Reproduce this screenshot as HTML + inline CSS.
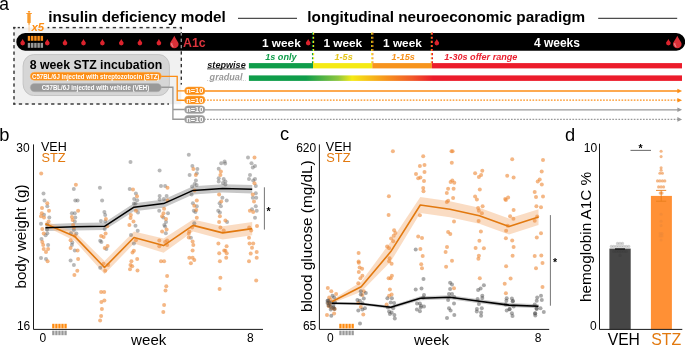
<!DOCTYPE html>
<html lang="en">
<head>
<meta charset="utf-8">
<title>Figure: insulin deficiency model and longitudinal neuroeconomic paradigm</title>
<style>
html,body{margin:0;padding:0;background:#fff;}
body{width:685px;height:345px;overflow:hidden;}
svg{display:block;}
</style>
</head>
<body>
<svg width="685" height="345" viewBox="0 0 685 345" font-family="'Liberation Sans', sans-serif">
<rect width="685" height="345" fill="#fff"/>
<g id="panel-a">
<rect x="14" y="27.6" width="167.3" height="76.6" fill="#f1f1f1"/>
<text x="-0.8" y="9.85" font-size="17.5" fill="#000">a</text>
<text x="48.2" y="22" font-size="15.3" font-weight="bold" fill="#000">insulin deficiency model</text>
<rect x="238" y="17.8" width="59" height="1" fill="#222"/>
<text x="307.3" y="22" font-size="15.3" font-weight="bold" fill="#000">longitudinal neuroeconomic paradigm</text>
<rect x="598.2" y="17.8" width="79" height="1" fill="#222"/>
<rect x="16.3" y="33.1" width="668.9" height="17.6" rx="8.8" fill="#000"/>
<rect x="13.3" y="26.9" width="2.3" height="1.4" fill="#303030"/>
<rect x="17.7" y="26.9" width="2.2" height="1.4" fill="#303030"/>
<rect x="22" y="26.9" width="1.9" height="1.4" fill="#303030"/>
<rect x="47.6" y="26.9" width="1.7" height="1.4" fill="#303030"/>
<rect x="52.50" y="26.90" width="3.30" height="1.4" fill="#303030"/><rect x="59.19" y="26.90" width="3.30" height="1.4" fill="#303030"/><rect x="65.89" y="26.90" width="3.30" height="1.4" fill="#303030"/><rect x="72.58" y="26.90" width="3.30" height="1.4" fill="#303030"/><rect x="79.27" y="26.90" width="3.30" height="1.4" fill="#303030"/><rect x="85.96" y="26.90" width="3.30" height="1.4" fill="#303030"/><rect x="92.65" y="26.90" width="3.30" height="1.4" fill="#303030"/><rect x="99.35" y="26.90" width="3.30" height="1.4" fill="#303030"/><rect x="106.04" y="26.90" width="3.30" height="1.4" fill="#303030"/><rect x="112.73" y="26.90" width="3.30" height="1.4" fill="#303030"/><rect x="119.42" y="26.90" width="3.30" height="1.4" fill="#303030"/><rect x="126.11" y="26.90" width="3.30" height="1.4" fill="#303030"/><rect x="132.81" y="26.90" width="3.30" height="1.4" fill="#303030"/><rect x="139.50" y="26.90" width="3.30" height="1.4" fill="#303030"/><rect x="146.19" y="26.90" width="3.30" height="1.4" fill="#303030"/><rect x="152.88" y="26.90" width="3.30" height="1.4" fill="#303030"/><rect x="159.57" y="26.90" width="3.30" height="1.4" fill="#303030"/><rect x="166.27" y="26.90" width="3.30" height="1.4" fill="#303030"/><rect x="172.96" y="26.90" width="3.30" height="1.4" fill="#303030"/><rect x="179.65" y="26.90" width="2.35" height="1.4" fill="#303030"/>
<rect x="13.30" y="103.30" width="2.35" height="1.4" fill="#303030"/><rect x="18.81" y="103.30" width="3.30" height="1.4" fill="#303030"/><rect x="25.27" y="103.30" width="3.30" height="1.4" fill="#303030"/><rect x="31.73" y="103.30" width="3.30" height="1.4" fill="#303030"/><rect x="38.18" y="103.30" width="3.30" height="1.4" fill="#303030"/><rect x="44.64" y="103.30" width="3.30" height="1.4" fill="#303030"/><rect x="51.10" y="103.30" width="3.30" height="1.4" fill="#303030"/><rect x="57.56" y="103.30" width="3.30" height="1.4" fill="#303030"/><rect x="64.02" y="103.30" width="3.30" height="1.4" fill="#303030"/><rect x="70.47" y="103.30" width="3.30" height="1.4" fill="#303030"/><rect x="76.93" y="103.30" width="3.30" height="1.4" fill="#303030"/><rect x="83.39" y="103.30" width="3.30" height="1.4" fill="#303030"/><rect x="89.85" y="103.30" width="3.30" height="1.4" fill="#303030"/><rect x="96.31" y="103.30" width="3.30" height="1.4" fill="#303030"/><rect x="102.77" y="103.30" width="3.30" height="1.4" fill="#303030"/><rect x="109.22" y="103.30" width="3.30" height="1.4" fill="#303030"/><rect x="115.68" y="103.30" width="3.30" height="1.4" fill="#303030"/><rect x="122.14" y="103.30" width="3.30" height="1.4" fill="#303030"/><rect x="128.60" y="103.30" width="3.30" height="1.4" fill="#303030"/><rect x="135.06" y="103.30" width="3.30" height="1.4" fill="#303030"/><rect x="141.52" y="103.30" width="3.30" height="1.4" fill="#303030"/><rect x="147.97" y="103.30" width="3.30" height="1.4" fill="#303030"/><rect x="154.43" y="103.30" width="3.30" height="1.4" fill="#303030"/><rect x="160.89" y="103.30" width="3.30" height="1.4" fill="#303030"/><rect x="167.35" y="103.30" width="1.65" height="1.4" fill="#303030"/>
<rect x="13.3" y="26.90" width="1.4" height="2.35" fill="#303030"/><rect x="13.3" y="32.33" width="1.4" height="3.30" fill="#303030"/><rect x="13.3" y="38.72" width="1.4" height="3.30" fill="#303030"/><rect x="13.3" y="45.10" width="1.4" height="3.30" fill="#303030"/><rect x="13.3" y="51.48" width="1.4" height="3.30" fill="#303030"/><rect x="13.3" y="57.87" width="1.4" height="3.30" fill="#303030"/><rect x="13.3" y="64.25" width="1.4" height="3.30" fill="#303030"/><rect x="13.3" y="70.63" width="1.4" height="3.30" fill="#303030"/><rect x="13.3" y="77.02" width="1.4" height="3.30" fill="#303030"/><rect x="13.3" y="83.40" width="1.4" height="3.30" fill="#303030"/><rect x="13.3" y="89.78" width="1.4" height="3.30" fill="#303030"/><rect x="13.3" y="96.17" width="1.4" height="3.30" fill="#303030"/><rect x="13.3" y="102.55" width="1.4" height="2.15" fill="#303030"/>
<rect x="180.60" y="26.90" width="1.4" height="2.35" fill="#303030"/><rect x="180.60" y="32.28" width="1.4" height="0.82" fill="#303030"/><rect x="180.60" y="33.10" width="1.4" height="2.48" fill="#909090"/><rect x="180.60" y="38.62" width="1.4" height="3.30" fill="#909090"/><rect x="180.60" y="44.95" width="1.4" height="3.30" fill="#909090"/><rect x="180.60" y="51.28" width="1.4" height="3.30" fill="#303030"/><rect x="180.60" y="57.62" width="1.4" height="3.30" fill="#303030"/><rect x="180.60" y="63.95" width="1.4" height="3.30" fill="#303030"/><rect x="180.60" y="70.28" width="1.4" height="3.30" fill="#303030"/><rect x="180.60" y="76.62" width="1.4" height="3.30" fill="#303030"/><rect x="180.60" y="82.95" width="1.4" height="1.65" fill="#303030"/>
<g fill="#fc8d14"><rect x="27.9" y="11.1" width="2.3" height="1.1"/><rect x="28.6" y="12" width="0.9" height="1.4"/><rect x="26.3" y="13.1" width="5.5" height="0.9"/><rect x="27.3" y="14" width="3.4" height="9" rx="0.5" fill="#f89a2c"/><rect x="28.3" y="23" width="1.5" height="1.8" fill="#f9a84a"/><rect x="28.65" y="24.8" width="0.8" height="6.8" fill="#fbc184"/></g>
<text x="31.4" y="31" font-size="11.4" font-weight="bold" font-style="italic" fill="#fc8d14">x5</text>
<rect x="27.80" y="35.9" width="2.45" height="4.9" fill="#fc8d14"/>
<rect x="27.80" y="42.9" width="2.45" height="4.9" fill="#999999"/>
<rect x="31.00" y="35.9" width="2.45" height="4.9" fill="#fc8d14"/>
<rect x="31.00" y="42.9" width="2.45" height="4.9" fill="#999999"/>
<rect x="34.20" y="35.9" width="2.45" height="4.9" fill="#fc8d14"/>
<rect x="34.20" y="42.9" width="2.45" height="4.9" fill="#999999"/>
<rect x="37.40" y="35.9" width="2.45" height="4.9" fill="#fc8d14"/>
<rect x="37.40" y="42.9" width="2.45" height="4.9" fill="#999999"/>
<rect x="40.60" y="35.9" width="2.45" height="4.9" fill="#fc8d14"/>
<rect x="40.60" y="42.9" width="2.45" height="4.9" fill="#999999"/>
<path d="M22.65 39.00 C23.71 41.11 25.00 42.20 25.00 43.05 A2.35 2.35 0 0 1 20.30 43.05 C20.30 42.20 21.59 41.11 22.65 39.00Z" fill="#dc232d" />
<path d="M47.30 39.00 C48.36 41.11 49.65 42.20 49.65 43.05 A2.35 2.35 0 0 1 44.95 43.05 C44.95 42.20 46.24 41.11 47.30 39.00Z" fill="#dc232d" />
<path d="M65.00 39.00 C66.06 41.11 67.35 42.20 67.35 43.05 A2.35 2.35 0 0 1 62.65 43.05 C62.65 42.20 63.94 41.11 65.00 39.00Z" fill="#dc232d" />
<path d="M83.50 39.00 C84.56 41.11 85.85 42.20 85.85 43.05 A2.35 2.35 0 0 1 81.15 43.05 C81.15 42.20 82.44 41.11 83.50 39.00Z" fill="#dc232d" />
<path d="M102.40 39.00 C103.46 41.11 104.75 42.20 104.75 43.05 A2.35 2.35 0 0 1 100.05 43.05 C100.05 42.20 101.34 41.11 102.40 39.00Z" fill="#dc232d" />
<path d="M121.30 39.00 C122.36 41.11 123.65 42.20 123.65 43.05 A2.35 2.35 0 0 1 118.95 43.05 C118.95 42.20 120.24 41.11 121.30 39.00Z" fill="#dc232d" />
<path d="M139.90 39.00 C140.96 41.11 142.25 42.20 142.25 43.05 A2.35 2.35 0 0 1 137.55 43.05 C137.55 42.20 138.84 41.11 139.90 39.00Z" fill="#dc232d" />
<path d="M158.90 39.00 C159.96 41.11 161.25 42.20 161.25 43.05 A2.35 2.35 0 0 1 156.55 43.05 C156.55 42.20 157.84 41.11 158.90 39.00Z" fill="#dc232d" />
<path d="M308.20 39.00 C309.26 41.11 310.55 42.20 310.55 43.05 A2.35 2.35 0 0 1 305.85 43.05 C305.85 42.20 307.14 41.11 308.20 39.00Z" fill="#dc232d" />
<path d="M436.80 39.00 C437.86 41.11 439.15 42.20 439.15 43.05 A2.35 2.35 0 0 1 434.45 43.05 C434.45 42.20 435.74 41.11 436.80 39.00Z" fill="#dc232d" />
<path d="M668.40 39.00 C669.46 41.11 670.75 42.20 670.75 43.05 A2.35 2.35 0 0 1 666.05 43.05 C666.05 42.20 667.34 41.11 668.40 39.00Z" fill="#dc232d" />
<path d="M174.30 35.70 C176.24 39.86 178.60 42.00 178.60 44.00 A4.30 4.30 0 0 1 170.00 44.00 C170.00 42.00 172.37 39.86 174.30 35.70Z" fill="#db3038" />
<path d="M171.20 43.6 a3.6 3.6 0 0 0 2.6 3.7 a5 5 0 0 1 -1.6 -4.4z" fill="#fff" fill-opacity="0.55"/>
<path d="M677.30 35.70 C679.23 39.86 681.60 42.00 681.60 44.00 A4.30 4.30 0 0 1 673.00 44.00 C673.00 42.00 675.37 39.86 677.30 35.70Z" fill="#db3038" />
<path d="M674.20 43.6 a3.6 3.6 0 0 0 2.6 3.7 a5 5 0 0 1 -1.6 -4.4z" fill="#fff" fill-opacity="0.55"/>
<text x="183.1" y="46.7" font-size="12.3" font-weight="bold" fill="#dc343c">A1c</text>
<text x="262" y="46.7" font-size="11.8" font-weight="bold" fill="#fff">1 week</text>
<text x="323.4" y="46.7" font-size="11.8" font-weight="bold" fill="#fff">1 week</text>
<text x="383.1" y="46.7" font-size="11.8" font-weight="bold" fill="#fff">1 week</text>
<text x="533.9" y="46.7" font-size="12" font-weight="bold" fill="#fff">4 weeks</text>
<line x1="312.50" y1="32.6" x2="312.50" y2="63.2" stroke="#0f9d4a" stroke-width="1.1" stroke-dasharray="2.1 2"/>
<line x1="313.60" y1="32.6" x2="313.60" y2="63.2" stroke="#f5ea14" stroke-width="1.1" stroke-dasharray="2.1 2"/>
<line x1="371.75" y1="32.6" x2="371.75" y2="63.2" stroke="#f5ea14" stroke-width="1.1" stroke-dasharray="2.1 2"/>
<line x1="372.85" y1="32.6" x2="372.85" y2="63.2" stroke="#f7941d" stroke-width="1.1" stroke-dasharray="2.1 2"/>
<line x1="431.35" y1="32.6" x2="431.35" y2="63.2" stroke="#f7941d" stroke-width="1.1" stroke-dasharray="2.1 2"/>
<line x1="432.45" y1="32.6" x2="432.45" y2="63.2" stroke="#ec1c2b" stroke-width="1.1" stroke-dasharray="2.1 2"/>
<text x="265.2" y="60.3" font-size="9.1" font-weight="bold" font-style="italic" fill="#0f9d4a">1s only</text>
<text x="334.5" y="60.3" font-size="9.1" font-weight="bold" font-style="italic" fill="#e3c41c">1-5s</text>
<text x="391.6" y="60.3" font-size="9.1" font-weight="bold" font-style="italic" fill="#f6921e">1-15s</text>
<text x="444.3" y="60.3" font-size="9.1" font-weight="bold" font-style="italic" fill="#ea2030">1-30s offer range</text>
<rect x="248.9" y="63.1" width="64.1" height="5.3" fill="#0f9d4a"/>
<rect x="313" y="63.1" width="59.3" height="5.3" fill="#f5ea14"/>
<rect x="372.3" y="63.1" width="59.6" height="5.3" fill="#f7941d"/>
<rect x="431.9" y="63.1" width="250.1" height="5.3" fill="#ec1c2b"/>
<defs><linearGradient id="gr" x1="248.9" x2="682" y1="0" y2="0" gradientUnits="userSpaceOnUse"><stop offset="0" stop-color="#0f9d4a"/><stop offset="0.1318" stop-color="#0f9d4a"/><stop offset="0.2057" stop-color="#8cc63f"/><stop offset="0.2381" stop-color="#f5ea14"/><stop offset="0.3166" stop-color="#f7941d"/><stop offset="0.3766" stop-color="#f15a29"/><stop offset="0.4251" stop-color="#ec1c2b"/><stop offset="1" stop-color="#ec1c2b"/></linearGradient></defs>
<rect x="248.9" y="75.4" width="433.1" height="5.5" fill="url(#gr)"/>
<text x="207.3" y="67.7" font-size="9.1" font-weight="bold" font-style="italic" fill="#111">stepwise</text>
<rect x="207.1" y="68.5" width="38.5" height="0.8" fill="#111"/>
<text x="209.6" y="79.8" font-size="9.1" font-weight="bold" font-style="italic" fill="#9a9a9a">gradual</text>
<line x1="207.2" y1="80.5" x2="245.6" y2="80.5" stroke="#b5b5b5" stroke-width="0.8" stroke-dasharray="0.9 1.2"/>
<rect x="23.1" y="54.6" width="146.3" height="40.9" rx="10.5" ry="11.5" fill="#d6d6d6" stroke="#c4c4c4" stroke-width="1"/>
<text x="29.7" y="68.5" font-size="12.3" font-weight="bold" fill="#000">8 week STZ incubation</text>
<path d="M160 76.3 H177.2 V100.2 H186 M177.2 90.8 H186" fill="none" stroke="#fc8d14" stroke-width="1.35"/>
<path d="M160 87.2 H172.9 V119.2 H186 M172.9 109.5 H186" fill="none" stroke="#999999" stroke-width="1.35"/>
<rect x="30.3" y="72.2" width="131" height="8" rx="4" fill="#fc8d14" stroke="#fbb45c" stroke-width="0.5"/>
<text x="32" y="79" font-size="7" font-weight="bold" fill="#fff" textLength="127.4" lengthAdjust="spacingAndGlyphs">C57BL/6J injected with streptozotocin (STZ)</text>
<rect x="30.3" y="83.4" width="131" height="8.3" rx="4.15" fill="#999999" stroke="#b0b0b0" stroke-width="0.5"/>
<text x="41.7" y="90" font-size="7" font-weight="bold" fill="#fff" textLength="107.6" lengthAdjust="spacingAndGlyphs">C57BL/6J injected with vehicle (VEH)</text>
<line x1="204" y1="91.0" x2="678" y2="91.0" stroke="#fc8d14" stroke-width="1.3"/>
<path d="M677.4 88.7 L682.1 91.0 L677.4 93.3Z" fill="#fc8d14"/>
<rect x="184.5" y="86.9" width="20.6" height="7.8" rx="3.9" fill="#fc8d14" stroke="#fbb45c" stroke-width="0.5"/>
<text x="186.2" y="93.4" font-size="7.4" font-weight="bold" fill="#fff">n=10</text>
<line x1="204" y1="100.2" x2="678" y2="100.2" stroke="#fc8d14" stroke-width="1.3" stroke-dasharray="1.65 1.42"/>
<path d="M677.4 97.9 L682.1 100.2 L677.4 102.5Z" fill="#fc8d14"/>
<rect x="184.5" y="96.1" width="20.6" height="7.8" rx="3.9" fill="#fc8d14" stroke="#fbb45c" stroke-width="0.5"/>
<text x="186.2" y="102.6" font-size="7.4" font-weight="bold" fill="#fff">n=10</text>
<line x1="204" y1="109.8" x2="678" y2="109.8" stroke="#999999" stroke-width="1.3"/>
<path d="M677.4 107.5 L682.1 109.8 L677.4 112.1Z" fill="#999999"/>
<rect x="184.5" y="105.7" width="20.6" height="7.8" rx="3.9" fill="#999999" stroke="#b5b5b5" stroke-width="0.5"/>
<text x="186.2" y="112.2" font-size="7.4" font-weight="bold" fill="#fff">n=10</text>
<line x1="204" y1="119.4" x2="678" y2="119.4" stroke="#999999" stroke-width="1.3" stroke-dasharray="1.65 1.42"/>
<path d="M677.4 117.1 L682.1 119.4 L677.4 121.7Z" fill="#999999"/>
<rect x="184.5" y="115.3" width="20.6" height="7.8" rx="3.9" fill="#999999" stroke="#b5b5b5" stroke-width="0.5"/>
<text x="186.2" y="121.8" font-size="7.4" font-weight="bold" fill="#fff">n=10</text>
</g>
<g id="panel-b">
<text x="-0.65" y="140.7" font-size="18.3" fill="#000">b</text>
<polygon points="45.4,224.3 74.9,223.1 104.5,222.5 134.0,203.2 163.6,199.5 193.1,186.2 222.7,184.2 252.2,185.0 252.2,193.4 222.7,192.6 193.1,194.6 163.6,207.7 134.0,211.2 104.5,230.1 74.9,230.5 45.4,231.1" fill="#b2b2b2" fill-opacity="0.72"/>
<polygon points="45.4,221.2 74.9,232.1 104.5,261.0 134.0,231.5 163.6,238.4 193.1,219.4 222.7,226.2 252.2,221.9 252.2,235.3 222.7,239.6 193.1,231.4 163.6,252.8 134.0,243.5 104.5,274.0 74.9,241.1 45.4,226.2" fill="#f6c092" fill-opacity="0.55"/>
<g fill="#555555" fill-opacity="0.42"><circle cx="43.5" cy="193.4" r="2.0"/><circle cx="44.5" cy="200.4" r="2.0"/><circle cx="73.8" cy="189.1" r="2.0"/><circle cx="75.3" cy="200.4" r="2.0"/><circle cx="77.6" cy="200.4" r="2.0"/><circle cx="99.9" cy="187.8" r="2.0"/><circle cx="102.1" cy="200.4" r="2.0"/><circle cx="130.5" cy="162.0" r="2.0"/><circle cx="129.7" cy="189.1" r="2.0"/><circle cx="135.9" cy="193.6" r="2.0"/><circle cx="134.2" cy="199.1" r="2.0"/><circle cx="137.2" cy="200.3" r="2.0"/><circle cx="133.9" cy="203.6" r="2.0"/><circle cx="135.5" cy="203.6" r="2.0"/><circle cx="47.3" cy="206.3" r="2.0"/><circle cx="44.0" cy="214.7" r="2.0"/><circle cx="49.3" cy="217.5" r="2.0"/><circle cx="41.0" cy="223.8" r="2.0"/><circle cx="47.3" cy="224.6" r="2.0"/><circle cx="47.0" cy="229.6" r="2.0"/><circle cx="47.3" cy="233.3" r="2.0"/><circle cx="45.6" cy="235.3" r="2.0"/><circle cx="41.5" cy="239.1" r="2.0"/><circle cx="48.1" cy="244.9" r="2.0"/><circle cx="41.0" cy="257.9" r="2.0"/><circle cx="46.0" cy="259.1" r="2.0"/><circle cx="71.9" cy="213.3" r="2.0"/><circle cx="74.8" cy="213.3" r="2.0"/><circle cx="75.3" cy="217.5" r="2.0"/><circle cx="74.8" cy="221.6" r="2.0"/><circle cx="73.9" cy="230.0" r="2.0"/><circle cx="70.9" cy="233.3" r="2.0"/><circle cx="76.4" cy="233.6" r="2.0"/><circle cx="72.3" cy="242.4" r="2.0"/><circle cx="71.9" cy="244.9" r="2.0"/><circle cx="74.8" cy="250.4" r="2.0"/><circle cx="70.6" cy="260.4" r="2.0"/><circle cx="104.4" cy="212.0" r="2.0"/><circle cx="105.2" cy="215.0" r="2.0"/><circle cx="100.9" cy="221.1" r="2.0"/><circle cx="105.2" cy="221.6" r="2.0"/><circle cx="104.7" cy="229.1" r="2.0"/><circle cx="100.2" cy="240.8" r="2.0"/><circle cx="101.4" cy="241.9" r="2.0"/><circle cx="106.4" cy="249.1" r="2.0"/><circle cx="138.0" cy="212.5" r="2.0"/><circle cx="135.5" cy="225.8" r="2.0"/><circle cx="137.7" cy="230.8" r="2.0"/><circle cx="131.0" cy="235.0" r="2.0"/><circle cx="133.9" cy="243.6" r="2.0"/><circle cx="73.9" cy="265.0" r="2.0"/><circle cx="100.2" cy="267.8" r="2.0"/><circle cx="159.6" cy="170.5" r="2.0"/><circle cx="161.0" cy="186.1" r="2.0"/><circle cx="165.1" cy="186.1" r="2.0"/><circle cx="159.6" cy="196.1" r="2.0"/><circle cx="166.6" cy="196.1" r="2.0"/><circle cx="159.6" cy="199.4" r="2.0"/><circle cx="163.8" cy="199.1" r="2.0"/><circle cx="188.8" cy="154.7" r="2.0"/><circle cx="192.4" cy="166.1" r="2.0"/><circle cx="197.4" cy="169.1" r="2.0"/><circle cx="196.8" cy="173.3" r="2.0"/><circle cx="189.6" cy="175.0" r="2.0"/><circle cx="195.9" cy="180.5" r="2.0"/><circle cx="194.6" cy="184.1" r="2.0"/><circle cx="196.6" cy="184.9" r="2.0"/><circle cx="192.1" cy="186.6" r="2.0"/><circle cx="191.6" cy="194.6" r="2.0"/><circle cx="192.9" cy="203.3" r="2.0"/><circle cx="224.6" cy="161.6" r="2.0"/><circle cx="221.2" cy="163.3" r="2.0"/><circle cx="225.1" cy="163.6" r="2.0"/><circle cx="218.7" cy="168.8" r="2.0"/><circle cx="218.7" cy="178.3" r="2.0"/><circle cx="223.7" cy="179.1" r="2.0"/><circle cx="218.7" cy="181.6" r="2.0"/><circle cx="225.4" cy="181.6" r="2.0"/><circle cx="222.9" cy="183.0" r="2.0"/><circle cx="225.4" cy="184.6" r="2.0"/><circle cx="222.4" cy="197.8" r="2.0"/><circle cx="226.7" cy="200.4" r="2.0"/><circle cx="219.6" cy="203.3" r="2.0"/><circle cx="248.0" cy="157.5" r="2.0"/><circle cx="251.5" cy="163.3" r="2.0"/><circle cx="255.0" cy="166.1" r="2.0"/><circle cx="252.8" cy="167.5" r="2.0"/><circle cx="250.0" cy="175.0" r="2.0"/><circle cx="249.0" cy="179.1" r="2.0"/><circle cx="255.0" cy="179.1" r="2.0"/><circle cx="253.2" cy="180.5" r="2.0"/><circle cx="255.8" cy="186.1" r="2.0"/><circle cx="255.8" cy="193.3" r="2.0"/><circle cx="252.8" cy="197.8" r="2.0"/><circle cx="256.2" cy="197.8" r="2.0"/><circle cx="159.2" cy="210.8" r="2.0"/><circle cx="168.0" cy="213.3" r="2.0"/><circle cx="163.3" cy="217.5" r="2.0"/><circle cx="166.0" cy="222.1" r="2.0"/><circle cx="164.3" cy="225.0" r="2.0"/><circle cx="165.1" cy="226.6" r="2.0"/><circle cx="165.8" cy="233.3" r="2.0"/><circle cx="196.8" cy="206.3" r="2.0"/><circle cx="193.8" cy="210.8" r="2.0"/><circle cx="195.4" cy="212.0" r="2.0"/><circle cx="194.3" cy="223.3" r="2.0"/><circle cx="190.9" cy="237.8" r="2.0"/><circle cx="220.9" cy="206.3" r="2.0"/><circle cx="218.2" cy="210.8" r="2.0"/><circle cx="219.9" cy="212.5" r="2.0"/><circle cx="227.1" cy="222.0" r="2.0"/><circle cx="255.8" cy="206.3" r="2.0"/><circle cx="252.0" cy="209.2" r="2.0"/><circle cx="256.7" cy="210.8" r="2.0"/><circle cx="255.0" cy="217.8" r="2.0"/></g>
<g fill="#ee8a3a" fill-opacity="0.62"><circle cx="41.2" cy="173.5" r="2.0"/><circle cx="47.3" cy="203.3" r="2.0"/><circle cx="75.9" cy="184.8" r="2.0"/><circle cx="133.0" cy="189.4" r="2.0"/><circle cx="137.0" cy="196.3" r="2.0"/><circle cx="42.0" cy="208.0" r="2.0"/><circle cx="49.0" cy="210.8" r="2.0"/><circle cx="41.8" cy="213.3" r="2.0"/><circle cx="41.0" cy="216.3" r="2.0"/><circle cx="44.0" cy="217.5" r="2.0"/><circle cx="48.6" cy="221.6" r="2.0"/><circle cx="42.3" cy="229.1" r="2.0"/><circle cx="43.7" cy="233.6" r="2.0"/><circle cx="42.3" cy="241.9" r="2.0"/><circle cx="43.2" cy="244.9" r="2.0"/><circle cx="43.7" cy="249.1" r="2.0"/><circle cx="48.1" cy="249.1" r="2.0"/><circle cx="46.0" cy="252.1" r="2.0"/><circle cx="47.6" cy="261.3" r="2.0"/><circle cx="78.1" cy="210.8" r="2.0"/><circle cx="71.9" cy="217.0" r="2.0"/><circle cx="72.6" cy="220.0" r="2.0"/><circle cx="73.1" cy="225.0" r="2.0"/><circle cx="73.9" cy="227.5" r="2.0"/><circle cx="74.8" cy="235.8" r="2.0"/><circle cx="70.6" cy="240.3" r="2.0"/><circle cx="70.6" cy="247.9" r="2.0"/><circle cx="77.6" cy="250.4" r="2.0"/><circle cx="78.1" cy="259.1" r="2.0"/><circle cx="105.9" cy="219.1" r="2.0"/><circle cx="107.2" cy="226.3" r="2.0"/><circle cx="105.6" cy="233.6" r="2.0"/><circle cx="101.1" cy="236.1" r="2.0"/><circle cx="103.6" cy="237.1" r="2.0"/><circle cx="107.6" cy="246.1" r="2.0"/><circle cx="104.7" cy="247.9" r="2.0"/><circle cx="135.9" cy="210.8" r="2.0"/><circle cx="130.9" cy="215.0" r="2.0"/><circle cx="130.5" cy="218.0" r="2.0"/><circle cx="133.5" cy="221.6" r="2.0"/><circle cx="129.4" cy="225.0" r="2.0"/><circle cx="135.9" cy="240.3" r="2.0"/><circle cx="133.9" cy="250.8" r="2.0"/><circle cx="132.5" cy="252.4" r="2.0"/><circle cx="137.2" cy="259.1" r="2.0"/><circle cx="131.4" cy="261.3" r="2.0"/><circle cx="77.3" cy="270.8" r="2.0"/><circle cx="74.4" cy="275.0" r="2.0"/><circle cx="103.6" cy="263.7" r="2.0"/><circle cx="108.1" cy="265.0" r="2.0"/><circle cx="105.2" cy="270.8" r="2.0"/><circle cx="130.5" cy="265.0" r="2.0"/><circle cx="132.2" cy="266.3" r="2.0"/><circle cx="130.0" cy="269.2" r="2.0"/><circle cx="137.5" cy="270.5" r="2.0"/><circle cx="101.1" cy="292.0" r="2.0"/><circle cx="104.2" cy="292.0" r="2.0"/><circle cx="104.4" cy="300.4" r="2.0"/><circle cx="101.4" cy="302.1" r="2.0"/><circle cx="101.9" cy="309.1" r="2.0"/><circle cx="101.1" cy="316.1" r="2.0"/><circle cx="100.1" cy="320.5" r="2.0"/><circle cx="167.5" cy="187.8" r="2.0"/><circle cx="167.6" cy="200.4" r="2.0"/><circle cx="193.4" cy="169.1" r="2.0"/><circle cx="195.8" cy="175.0" r="2.0"/><circle cx="194.6" cy="190.4" r="2.0"/><circle cx="196.8" cy="200.4" r="2.0"/><circle cx="220.9" cy="171.6" r="2.0"/><circle cx="220.4" cy="175.0" r="2.0"/><circle cx="219.1" cy="194.6" r="2.0"/><circle cx="221.2" cy="201.6" r="2.0"/><circle cx="254.5" cy="157.5" r="2.0"/><circle cx="254.5" cy="183.3" r="2.0"/><circle cx="252.8" cy="194.6" r="2.0"/><circle cx="254.0" cy="201.6" r="2.0"/><circle cx="164.1" cy="208.7" r="2.0"/><circle cx="163.5" cy="213.3" r="2.0"/><circle cx="162.1" cy="216.3" r="2.0"/><circle cx="166.0" cy="219.1" r="2.0"/><circle cx="166.6" cy="229.5" r="2.0"/><circle cx="162.1" cy="231.6" r="2.0"/><circle cx="159.3" cy="240.4" r="2.0"/><circle cx="167.1" cy="240.4" r="2.0"/><circle cx="165.1" cy="241.9" r="2.0"/><circle cx="159.3" cy="246.3" r="2.0"/><circle cx="167.1" cy="244.9" r="2.0"/><circle cx="161.0" cy="261.3" r="2.0"/><circle cx="164.1" cy="261.3" r="2.0"/><circle cx="194.3" cy="205.8" r="2.0"/><circle cx="196.3" cy="210.0" r="2.0"/><circle cx="196.8" cy="217.8" r="2.0"/><circle cx="192.1" cy="227.5" r="2.0"/><circle cx="189.3" cy="231.6" r="2.0"/><circle cx="188.8" cy="233.8" r="2.0"/><circle cx="188.8" cy="237.5" r="2.0"/><circle cx="192.6" cy="241.6" r="2.0"/><circle cx="193.3" cy="244.9" r="2.0"/><circle cx="192.6" cy="250.4" r="2.0"/><circle cx="189.3" cy="257.8" r="2.0"/><circle cx="192.6" cy="257.8" r="2.0"/><circle cx="194.3" cy="259.9" r="2.0"/><circle cx="219.9" cy="216.3" r="2.0"/><circle cx="219.1" cy="222.0" r="2.0"/><circle cx="225.4" cy="220.5" r="2.0"/><circle cx="220.4" cy="227.5" r="2.0"/><circle cx="223.7" cy="230.5" r="2.0"/><circle cx="218.4" cy="243.6" r="2.0"/><circle cx="226.6" cy="246.3" r="2.0"/><circle cx="224.2" cy="250.4" r="2.0"/><circle cx="225.4" cy="250.8" r="2.0"/><circle cx="219.2" cy="253.3" r="2.0"/><circle cx="226.7" cy="253.3" r="2.0"/><circle cx="226.2" cy="257.8" r="2.0"/><circle cx="219.9" cy="261.3" r="2.0"/><circle cx="249.9" cy="210.8" r="2.0"/><circle cx="253.2" cy="212.0" r="2.0"/><circle cx="257.0" cy="226.1" r="2.0"/><circle cx="249.2" cy="227.5" r="2.0"/><circle cx="251.2" cy="230.5" r="2.0"/><circle cx="249.0" cy="237.8" r="2.0"/><circle cx="249.5" cy="243.6" r="2.0"/><circle cx="253.2" cy="243.6" r="2.0"/><circle cx="252.0" cy="247.8" r="2.0"/><circle cx="256.7" cy="252.1" r="2.0"/><circle cx="250.7" cy="253.6" r="2.0"/><circle cx="256.7" cy="257.8" r="2.0"/><circle cx="249.0" cy="261.3" r="2.0"/><circle cx="167.1" cy="276.1" r="2.0"/><circle cx="166.3" cy="286.3" r="2.0"/><circle cx="165.5" cy="290.5" r="2.0"/><circle cx="164.1" cy="304.9" r="2.0"/><circle cx="163.3" cy="312.1" r="2.0"/><circle cx="190.9" cy="263.3" r="2.0"/><circle cx="220.4" cy="277.8" r="2.0"/><circle cx="219.6" cy="289.1" r="2.0"/><circle cx="256.2" cy="280.5" r="2.0"/></g>
<polyline points="45.4,223.7 74.9,236.6 104.5,267.5 134.0,237.5 163.6,245.6 193.1,225.4 222.7,232.9 252.2,228.6" fill="none" stroke="#e2790f" stroke-width="1.6" stroke-linejoin="round"/>
<polyline points="45.4,227.7 74.9,226.8 104.5,226.3 134.0,207.2 163.6,203.6 193.1,190.4 222.7,188.4 252.2,189.2" fill="none" stroke="#000" stroke-width="1.55" stroke-linejoin="round"/>
<path d="M33.5 144.4 V329.4 H263" fill="none" stroke="#1a1a1a" stroke-width="1"/>
<text x="16.3" y="151.6" font-size="12" fill="#000">30</text>
<text x="16.9" y="329.9" font-size="12" fill="#000">16</text>
<text x="39.6" y="342.2" font-size="12" fill="#000">0</text>
<text x="247.1" y="342.2" font-size="12" fill="#000">8</text>
<text x="131.1" y="344.8" font-size="15.1" fill="#000">week</text>
<text transform="translate(26.2 288.6) rotate(-90)" font-size="15.25" fill="#000">body weight (g)</text>
<text x="41" y="151.2" font-size="12.5" fill="#000">VEH</text>
<text x="41.5" y="162" font-size="12.8" fill="#e2790f">STZ</text>
<rect x="52.20" y="323.8" width="2.3" height="4.6" fill="#ff8b0f"/><rect x="52.20" y="330.7" width="2.3" height="4.5" fill="#999999"/><rect x="55.25" y="323.8" width="2.3" height="4.6" fill="#ff8b0f"/><rect x="55.25" y="330.7" width="2.3" height="4.5" fill="#999999"/><rect x="58.30" y="323.8" width="2.3" height="4.6" fill="#ff8b0f"/><rect x="58.30" y="330.7" width="2.3" height="4.5" fill="#999999"/><rect x="61.35" y="323.8" width="2.3" height="4.6" fill="#ff8b0f"/><rect x="61.35" y="330.7" width="2.3" height="4.5" fill="#999999"/><rect x="64.40" y="323.8" width="2.3" height="4.6" fill="#ff8b0f"/><rect x="64.40" y="330.7" width="2.3" height="4.5" fill="#999999"/>
<rect x="263.9" y="187.3" width="0.9" height="42.3" fill="#666"/>
<text x="266.5" y="214.6" font-size="10.5" font-weight="bold" fill="#000">*</text>
</g>
<g id="panel-c">
<text x="279.9" y="140.4" font-size="18.3" fill="#000">c</text>
<polygon points="331.7,300.0 361.2,281.8 390.8,241.6 420.3,197.1 449.9,201.3 479.4,207.8 509.0,218.5 538.5,209.3 538.5,224.9 509.0,234.5 479.4,223.8 449.9,217.3 420.3,212.9 390.8,261.6 361.2,291.8 331.7,303.6" fill="#f6c092" fill-opacity="0.55"/>
<polygon points="331.7,302.2 361.2,302.6 390.8,305.7 420.3,296.3 449.9,295.3 479.4,299.3 509.0,303.1 538.5,304.3 538.5,308.3 509.0,307.1 479.4,303.3 449.9,299.3 420.3,300.3 390.8,308.9 361.2,305.0 331.7,304.2" fill="#999999" fill-opacity="0.55"/>
<g fill="#ee8a3a" fill-opacity="0.62"><circle cx="392.9" cy="151.3" r="2.0"/><circle cx="388.9" cy="196.3" r="2.0"/><circle cx="423.2" cy="156.2" r="2.0"/><circle cx="419.9" cy="166.1" r="2.0"/><circle cx="424.5" cy="165.0" r="2.0"/><circle cx="424.5" cy="172.0" r="2.0"/><circle cx="416.0" cy="174.1" r="2.0"/><circle cx="418.2" cy="178.3" r="2.0"/><circle cx="420.4" cy="177.5" r="2.0"/><circle cx="424.0" cy="181.0" r="2.0"/><circle cx="423.2" cy="187.9" r="2.0"/><circle cx="423.5" cy="191.3" r="2.0"/><circle cx="358.6" cy="252.9" r="2.0"/><circle cx="358.6" cy="261.6" r="2.0"/><circle cx="388.6" cy="215.0" r="2.0"/><circle cx="394.1" cy="230.3" r="2.0"/><circle cx="395.4" cy="233.0" r="2.0"/><circle cx="393.7" cy="235.8" r="2.0"/><circle cx="391.1" cy="238.6" r="2.0"/><circle cx="393.2" cy="241.3" r="2.0"/><circle cx="387.1" cy="246.6" r="2.0"/><circle cx="389.1" cy="248.3" r="2.0"/><circle cx="389.6" cy="258.3" r="2.0"/><circle cx="389.1" cy="261.3" r="2.0"/><circle cx="419.9" cy="215.3" r="2.0"/><circle cx="418.2" cy="236.6" r="2.0"/><circle cx="422.0" cy="238.0" r="2.0"/><circle cx="420.4" cy="249.1" r="2.0"/><circle cx="422.7" cy="256.1" r="2.0"/><circle cx="327.8" cy="288.0" r="2.0"/><circle cx="331.3" cy="291.3" r="2.0"/><circle cx="336.1" cy="294.1" r="2.0"/><circle cx="329.2" cy="297.4" r="2.0"/><circle cx="328.3" cy="302.9" r="2.0"/><circle cx="329.2" cy="304.9" r="2.0"/><circle cx="334.6" cy="309.1" r="2.0"/><circle cx="334.1" cy="313.6" r="2.0"/><circle cx="327.0" cy="314.9" r="2.0"/><circle cx="358.8" cy="262.8" r="2.0"/><circle cx="359.6" cy="267.5" r="2.0"/><circle cx="362.1" cy="268.7" r="2.0"/><circle cx="358.8" cy="272.1" r="2.0"/><circle cx="362.4" cy="275.8" r="2.0"/><circle cx="360.4" cy="278.3" r="2.0"/><circle cx="358.3" cy="283.3" r="2.0"/><circle cx="363.8" cy="291.3" r="2.0"/><circle cx="362.4" cy="294.9" r="2.0"/><circle cx="358.3" cy="302.9" r="2.0"/><circle cx="360.8" cy="307.1" r="2.0"/><circle cx="363.3" cy="314.6" r="2.0"/><circle cx="391.6" cy="263.7" r="2.0"/><circle cx="391.9" cy="275.8" r="2.0"/><circle cx="388.6" cy="278.3" r="2.0"/><circle cx="390.7" cy="278.3" r="2.0"/><circle cx="389.9" cy="289.5" r="2.0"/><circle cx="391.6" cy="294.4" r="2.0"/><circle cx="389.1" cy="295.8" r="2.0"/><circle cx="386.6" cy="304.6" r="2.0"/><circle cx="421.2" cy="264.2" r="2.0"/><circle cx="422.0" cy="268.3" r="2.0"/><circle cx="451.5" cy="151.3" r="2.0"/><circle cx="452.6" cy="151.3" r="2.0"/><circle cx="451.8" cy="162.8" r="2.0"/><circle cx="452.3" cy="180.5" r="2.0"/><circle cx="450.6" cy="182.1" r="2.0"/><circle cx="454.3" cy="182.8" r="2.0"/><circle cx="448.1" cy="188.8" r="2.0"/><circle cx="453.6" cy="188.8" r="2.0"/><circle cx="446.8" cy="192.9" r="2.0"/><circle cx="453.1" cy="197.9" r="2.0"/><circle cx="448.1" cy="200.8" r="2.0"/><circle cx="446.8" cy="202.1" r="2.0"/><circle cx="482.3" cy="170.8" r="2.0"/><circle cx="475.1" cy="173.3" r="2.0"/><circle cx="481.1" cy="175.0" r="2.0"/><circle cx="478.9" cy="177.1" r="2.0"/><circle cx="479.8" cy="189.6" r="2.0"/><circle cx="475.1" cy="196.6" r="2.0"/><circle cx="476.9" cy="199.4" r="2.0"/><circle cx="512.2" cy="159.2" r="2.0"/><circle cx="507.2" cy="175.8" r="2.0"/><circle cx="513.6" cy="177.5" r="2.0"/><circle cx="508.1" cy="197.4" r="2.0"/><circle cx="505.2" cy="199.1" r="2.0"/><circle cx="505.9" cy="199.9" r="2.0"/><circle cx="543.0" cy="160.0" r="2.0"/><circle cx="541.7" cy="171.6" r="2.0"/><circle cx="539.7" cy="179.5" r="2.0"/><circle cx="537.7" cy="181.6" r="2.0"/><circle cx="541.8" cy="184.6" r="2.0"/><circle cx="534.7" cy="191.9" r="2.0"/><circle cx="536.0" cy="197.1" r="2.0"/><circle cx="543.0" cy="196.6" r="2.0"/><circle cx="454.0" cy="221.6" r="2.0"/><circle cx="448.1" cy="232.0" r="2.0"/><circle cx="450.3" cy="234.1" r="2.0"/><circle cx="447.0" cy="247.1" r="2.0"/><circle cx="445.6" cy="252.1" r="2.0"/><circle cx="452.0" cy="260.8" r="2.0"/><circle cx="482.6" cy="206.3" r="2.0"/><circle cx="478.1" cy="208.0" r="2.0"/><circle cx="478.9" cy="210.8" r="2.0"/><circle cx="481.9" cy="213.3" r="2.0"/><circle cx="478.6" cy="221.1" r="2.0"/><circle cx="480.9" cy="231.6" r="2.0"/><circle cx="479.4" cy="240.8" r="2.0"/><circle cx="475.6" cy="247.9" r="2.0"/><circle cx="483.9" cy="248.3" r="2.0"/><circle cx="478.9" cy="255.8" r="2.0"/><circle cx="478.4" cy="258.8" r="2.0"/><circle cx="513.6" cy="210.0" r="2.0"/><circle cx="510.1" cy="216.2" r="2.0"/><circle cx="513.4" cy="218.8" r="2.0"/><circle cx="507.7" cy="225.8" r="2.0"/><circle cx="506.1" cy="230.8" r="2.0"/><circle cx="505.9" cy="238.3" r="2.0"/><circle cx="512.2" cy="240.4" r="2.0"/><circle cx="513.6" cy="246.9" r="2.0"/><circle cx="512.6" cy="255.8" r="2.0"/><circle cx="536.4" cy="206.3" r="2.0"/><circle cx="541.0" cy="207.2" r="2.0"/><circle cx="537.2" cy="216.6" r="2.0"/><circle cx="534.7" cy="220.8" r="2.0"/><circle cx="541.0" cy="233.3" r="2.0"/><circle cx="536.8" cy="237.5" r="2.0"/><circle cx="534.7" cy="256.1" r="2.0"/><circle cx="541.3" cy="255.4" r="2.0"/><circle cx="446.1" cy="266.7" r="2.0"/><circle cx="454.0" cy="288.3" r="2.0"/><circle cx="479.8" cy="278.3" r="2.0"/><circle cx="506.1" cy="266.2" r="2.0"/><circle cx="510.6" cy="278.6" r="2.0"/><circle cx="504.7" cy="283.8" r="2.0"/><circle cx="505.9" cy="293.3" r="2.0"/><circle cx="542.5" cy="263.0" r="2.0"/><circle cx="536.0" cy="268.3" r="2.0"/><circle cx="542.5" cy="287.0" r="2.0"/><circle cx="329.0" cy="301.5" r="2.0"/><circle cx="330.0" cy="304.0" r="2.0"/><circle cx="328.8" cy="306.3" r="2.0"/><circle cx="331.5" cy="308.0" r="2.0"/><circle cx="334.0" cy="308.5" r="2.0"/><circle cx="330.5" cy="299.5" r="2.0"/></g>
<g fill="#484848" fill-opacity="0.47"><circle cx="415.7" cy="249.4" r="2.0"/><circle cx="332.5" cy="295.8" r="2.0"/><circle cx="334.1" cy="297.4" r="2.0"/><circle cx="327.5" cy="300.8" r="2.0"/><circle cx="331.6" cy="302.4" r="2.0"/><circle cx="335.0" cy="302.4" r="2.0"/><circle cx="333.3" cy="305.8" r="2.0"/><circle cx="330.8" cy="309.6" r="2.0"/><circle cx="331.3" cy="315.8" r="2.0"/><circle cx="360.8" cy="291.3" r="2.0"/><circle cx="365.8" cy="293.0" r="2.0"/><circle cx="360.8" cy="294.4" r="2.0"/><circle cx="363.8" cy="298.6" r="2.0"/><circle cx="357.4" cy="299.9" r="2.0"/><circle cx="359.9" cy="300.8" r="2.0"/><circle cx="362.4" cy="303.3" r="2.0"/><circle cx="364.9" cy="308.3" r="2.0"/><circle cx="362.4" cy="309.6" r="2.0"/><circle cx="358.3" cy="310.4" r="2.0"/><circle cx="387.4" cy="298.3" r="2.0"/><circle cx="391.9" cy="298.3" r="2.0"/><circle cx="390.7" cy="302.4" r="2.0"/><circle cx="394.1" cy="302.9" r="2.0"/><circle cx="387.9" cy="307.4" r="2.0"/><circle cx="393.2" cy="308.3" r="2.0"/><circle cx="389.1" cy="311.6" r="2.0"/><circle cx="391.6" cy="312.4" r="2.0"/><circle cx="389.9" cy="314.1" r="2.0"/><circle cx="394.4" cy="314.9" r="2.0"/><circle cx="423.5" cy="279.1" r="2.0"/><circle cx="421.5" cy="288.6" r="2.0"/><circle cx="415.7" cy="289.6" r="2.0"/><circle cx="424.0" cy="294.9" r="2.0"/><circle cx="423.2" cy="297.4" r="2.0"/><circle cx="417.0" cy="303.6" r="2.0"/><circle cx="419.9" cy="303.6" r="2.0"/><circle cx="421.0" cy="305.8" r="2.0"/><circle cx="424.0" cy="306.6" r="2.0"/><circle cx="420.7" cy="307.4" r="2.0"/><circle cx="416.9" cy="309.6" r="2.0"/><circle cx="419.9" cy="311.3" r="2.0"/><circle cx="360.0" cy="323.6" r="2.0"/><circle cx="394.8" cy="318.5" r="2.0"/><circle cx="450.1" cy="282.8" r="2.0"/><circle cx="452.0" cy="284.6" r="2.0"/><circle cx="450.1" cy="289.1" r="2.0"/><circle cx="449.0" cy="294.1" r="2.0"/><circle cx="452.0" cy="294.1" r="2.0"/><circle cx="454.3" cy="296.9" r="2.0"/><circle cx="448.1" cy="299.9" r="2.0"/><circle cx="454.0" cy="303.6" r="2.0"/><circle cx="449.0" cy="308.3" r="2.0"/><circle cx="450.6" cy="310.4" r="2.0"/><circle cx="454.3" cy="314.9" r="2.0"/><circle cx="483.9" cy="285.3" r="2.0"/><circle cx="480.6" cy="288.6" r="2.0"/><circle cx="478.1" cy="290.0" r="2.0"/><circle cx="482.3" cy="295.8" r="2.0"/><circle cx="482.3" cy="297.9" r="2.0"/><circle cx="477.6" cy="299.1" r="2.0"/><circle cx="478.9" cy="304.1" r="2.0"/><circle cx="476.9" cy="309.1" r="2.0"/><circle cx="481.8" cy="308.3" r="2.0"/><circle cx="476.8" cy="311.6" r="2.0"/><circle cx="481.1" cy="312.4" r="2.0"/><circle cx="481.1" cy="315.8" r="2.0"/><circle cx="506.7" cy="298.3" r="2.0"/><circle cx="511.9" cy="298.6" r="2.0"/><circle cx="506.4" cy="300.8" r="2.0"/><circle cx="512.6" cy="301.3" r="2.0"/><circle cx="505.6" cy="304.6" r="2.0"/><circle cx="513.6" cy="306.6" r="2.0"/><circle cx="509.7" cy="309.1" r="2.0"/><circle cx="506.7" cy="310.4" r="2.0"/><circle cx="511.9" cy="313.3" r="2.0"/><circle cx="541.0" cy="295.8" r="2.0"/><circle cx="537.2" cy="297.4" r="2.0"/><circle cx="541.8" cy="299.9" r="2.0"/><circle cx="536.7" cy="300.8" r="2.0"/><circle cx="534.7" cy="304.6" r="2.0"/><circle cx="540.5" cy="308.3" r="2.0"/><circle cx="536.7" cy="309.1" r="2.0"/><circle cx="543.8" cy="311.9" r="2.0"/><circle cx="535.2" cy="313.3" r="2.0"/><circle cx="447.0" cy="318.0" r="2.0"/><circle cx="535.3" cy="315.5" r="2.0"/><circle cx="512.5" cy="315.9" r="2.0"/><circle cx="509.4" cy="309.3" r="2.0"/><circle cx="513.0" cy="301.0" r="2.0"/><circle cx="536.5" cy="308.5" r="2.0"/><circle cx="535.0" cy="313.5" r="2.0"/><circle cx="328.2" cy="300.5" r="2.0"/><circle cx="329.5" cy="303.0" r="2.0"/><circle cx="328.5" cy="305.5" r="2.0"/><circle cx="330.5" cy="306.5" r="2.0"/><circle cx="333.5" cy="307.5" r="2.0"/><circle cx="334.5" cy="309.0" r="2.0"/><circle cx="327.5" cy="303.0" r="2.0"/></g>
<polyline points="331.7,301.8 361.2,286.8 390.8,251.6 420.3,205.0 449.9,209.3 479.4,215.8 509.0,226.5 538.5,217.1" fill="none" stroke="#e2790f" stroke-width="1.6" stroke-linejoin="round"/>
<polyline points="331.7,303.2 361.2,303.8 390.8,307.3 420.3,298.3 449.9,297.3 479.4,301.3 509.0,305.1 538.5,306.3" fill="none" stroke="#000" stroke-width="1.6" stroke-linejoin="round"/>
<path d="M319.4 144.4 V329.4 H549.2" fill="none" stroke="#1a1a1a" stroke-width="1"/>
<text x="296.2" y="151.6" font-size="12" fill="#000">620</text>
<text x="302.9" y="329.9" font-size="12" fill="#000">65</text>
<text x="327" y="342.2" font-size="12" fill="#000">0</text>
<text x="534.7" y="342.2" font-size="12" fill="#000">8</text>
<text x="413.9" y="344.8" font-size="15.1" fill="#000">week</text>
<text transform="translate(311.7 312.1) rotate(-90)" font-size="15.35" fill="#000">blood glucose (mg/dL)</text>
<text x="325.8" y="151.2" font-size="12.5" fill="#000">VEH</text>
<text x="326.3" y="162" font-size="12.8" fill="#e2790f">STZ</text>
<rect x="339.30" y="323.8" width="2.3" height="4.6" fill="#ff8b0f"/><rect x="339.30" y="330.7" width="2.3" height="4.5" fill="#999999"/><rect x="342.35" y="323.8" width="2.3" height="4.6" fill="#ff8b0f"/><rect x="342.35" y="330.7" width="2.3" height="4.5" fill="#999999"/><rect x="345.40" y="323.8" width="2.3" height="4.6" fill="#ff8b0f"/><rect x="345.40" y="330.7" width="2.3" height="4.5" fill="#999999"/><rect x="348.45" y="323.8" width="2.3" height="4.6" fill="#ff8b0f"/><rect x="348.45" y="330.7" width="2.3" height="4.5" fill="#999999"/><rect x="351.50" y="323.8" width="2.3" height="4.6" fill="#ff8b0f"/><rect x="351.50" y="330.7" width="2.3" height="4.5" fill="#999999"/>
<rect x="549.9" y="215.1" width="0.9" height="90.6" fill="#666"/>
<text x="552.9" y="266.1" font-size="10.5" font-weight="bold" fill="#000">*</text>
</g>
<g id="panel-d">
<text x="565" y="140.7" font-size="18.3" fill="#000">d</text>
<rect x="609.4" y="248.6" width="21.3" height="80.8" fill="#464646"/>
<rect x="650.9" y="195.9" width="21" height="133.5" fill="#ff9035"/>
<g fill="#303030" fill-opacity="0.22"><circle cx="617.5" cy="243.4" r="1.6"/><circle cx="620.0" cy="243.4" r="1.6"/><circle cx="622.5" cy="243.4" r="1.6"/><circle cx="611.3" cy="246.4" r="1.6"/><circle cx="613.8" cy="246.4" r="1.6"/><circle cx="616.3" cy="246.4" r="1.6"/><circle cx="618.8" cy="246.4" r="1.6"/><circle cx="621.3" cy="246.4" r="1.6"/><circle cx="623.8" cy="246.4" r="1.6"/><circle cx="626.3" cy="246.4" r="1.6"/><circle cx="628.8" cy="246.4" r="1.6"/><circle cx="613.8" cy="251.4" r="1.6"/><circle cx="616.3" cy="251.4" r="1.6"/><circle cx="618.8" cy="251.4" r="1.6"/><circle cx="621.3" cy="251.4" r="1.6"/><circle cx="623.8" cy="251.4" r="1.6"/><circle cx="626.3" cy="251.4" r="1.6"/><circle cx="620.0" cy="255.3" r="1.6"/></g>
<rect x="615" y="248.4" width="10" height="1.1" fill="#000"/>
<g fill="#ec8838" fill-opacity="0.6"><circle cx="661.1" cy="151.2" r="1.55"/><circle cx="661.1" cy="156.6" r="1.55"/><circle cx="661.1" cy="167.7" r="1.55"/><circle cx="661.1" cy="170.3" r="1.55"/><circle cx="659.9" cy="173.3" r="1.55"/><circle cx="662.4" cy="173.3" r="1.55"/><circle cx="657.5" cy="180.9" r="1.55"/><circle cx="659.9" cy="180.9" r="1.55"/><circle cx="662.4" cy="180.9" r="1.55"/><circle cx="664.8" cy="180.9" r="1.55"/><circle cx="658.6" cy="186.9" r="1.55"/><circle cx="661.1" cy="186.9" r="1.55"/><circle cx="663.6" cy="186.9" r="1.55"/><circle cx="660.2" cy="193.1" r="1.55"/><circle cx="662.0" cy="193.1" r="1.55"/><circle cx="661.1" cy="214.3" r="1.55"/><circle cx="661.1" cy="221.3" r="1.55"/><circle cx="661.1" cy="225.6" r="1.55"/><circle cx="660.2" cy="233.5" r="1.55"/><circle cx="662.0" cy="233.5" r="1.55"/><circle cx="660.2" cy="236.0" r="1.55"/><circle cx="662.0" cy="236.0" r="1.55"/><circle cx="661.1" cy="240.0" r="1.55"/></g>
<path d="M661.2 190.4 V201.2 M656 190.4 H666.2 M656 201.2 H666.2" fill="none" stroke="#e87d1b" stroke-width="0.9"/>
<path d="M599.5 143.7 V329.4 H682.3" fill="none" stroke="#1a1a1a" stroke-width="1"/>
<text x="583.7" y="151.8" font-size="12.1" fill="#000">10</text>
<text x="590.1" y="329.9" font-size="12" fill="#000">0</text>
<text transform="translate(590.9 301.9) rotate(-90)" font-size="15.3" fill="#000">hemoglobin A1C %</text>
<text x="607.7" y="345.2" font-size="15.7" fill="#000">VEH</text>
<text x="651.2" y="345.2" font-size="15.9" fill="#e2790f">STZ</text>
<rect x="630.5" y="149.9" width="20.5" height="0.8" fill="#444"/>
<text x="638.6" y="151.8" font-size="10.5" font-weight="bold" fill="#000">*</text>
</g>
</svg>
</body>
</html>
